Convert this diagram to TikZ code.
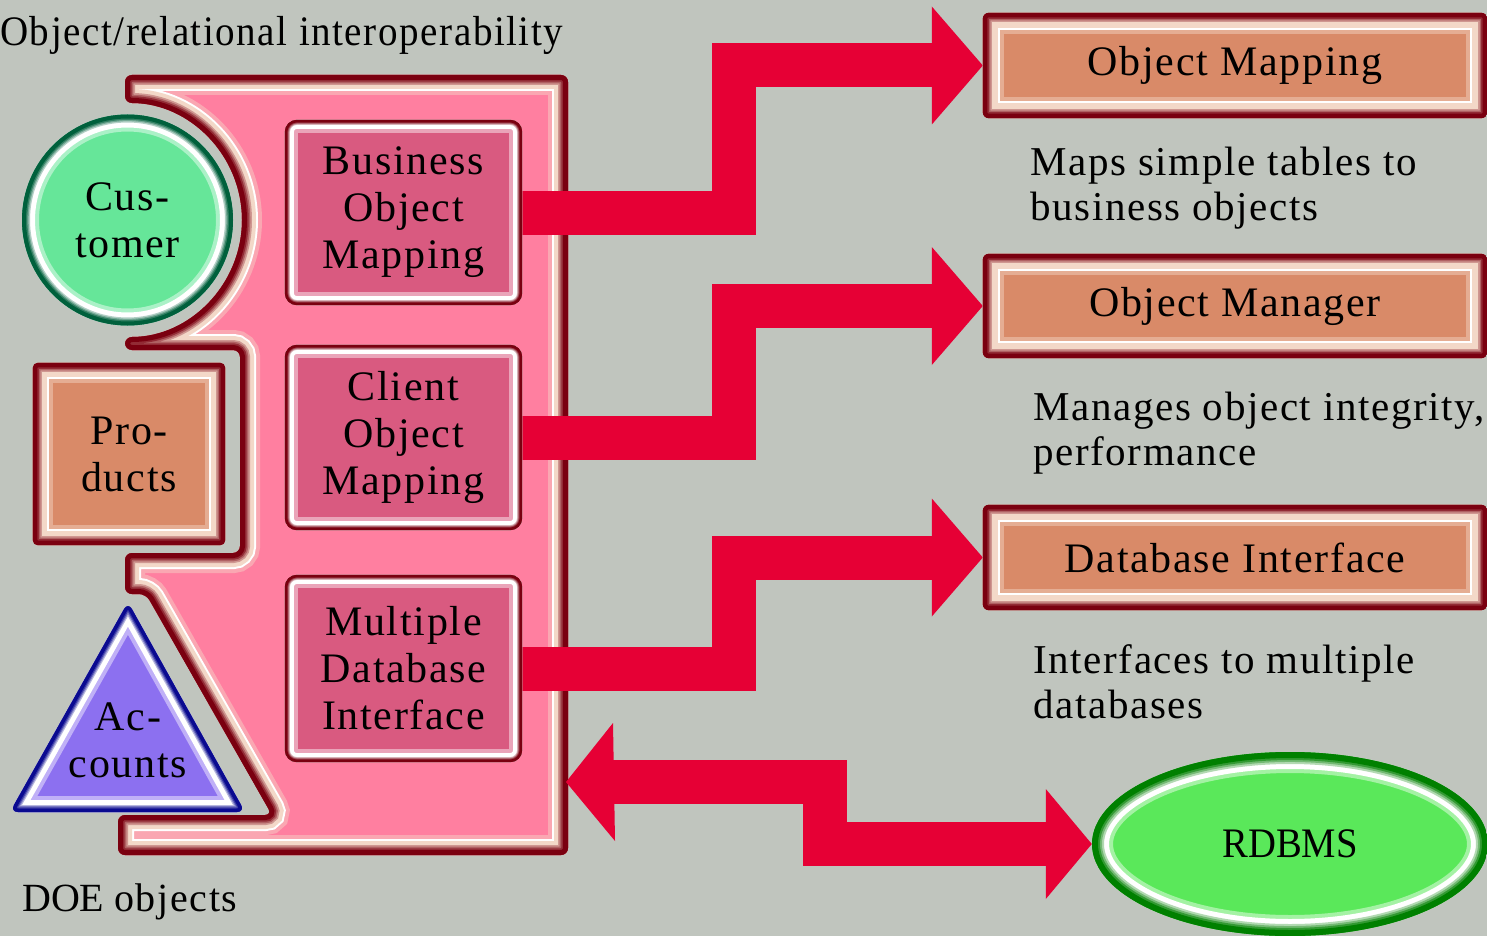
\documentclass[tikz,border=0pt]{standalone}
\usepackage{fontspec}
\setmainfont{Liberation Serif}
\newfontfamily\spc[LetterSpace=4]{Liberation Serif}
\usetikzlibrary{calc}
\pgfdeclarelayer{background}
\pgfsetlayers{background,main}
\definecolor{bgc}{RGB}{192,197,190}
\definecolor{pinkc}{RGB}{255,127,160}
\definecolor{boxpink}{RGB}{217,90,128}
\definecolor{dkred}{RGB}{122,0,16}
\definecolor{peach}{RGB}{243,216,200}
\definecolor{orangec}{RGB}{217,138,104}
\definecolor{arrowred}{RGB}{230,0,53}
\definecolor{custfill}{RGB}{102,230,153}
\definecolor{custdk}{RGB}{0,96,60}
\definecolor{accfill}{RGB}{140,112,240}
\definecolor{accdk}{RGB}{10,10,144}
\definecolor{rdfill}{RGB}{90,232,90}
\definecolor{rddk}{RGB}{0,128,0}
% #1 options, #2 path, #3 outer colour, #4 band colour, #5 fill, #6 dark width, #7 band width
\newcommand\bevel[7]{%
  \pgfmathsetmacro\bwA{2*(#6+#7+6)}\pgfmathsetmacro\bwB{2*(#6+#7+2)}%
  \pgfmathsetmacro\bwC{2*(#6+#7)}\pgfmathsetmacro\bwD{2*#6}%
  \pgfmathsetmacro\bwE{2*#6*0.83}\pgfmathsetmacro\bwF{2*#6*0.67}%
  \pgfmathsetmacro\bwG{2*#6*0.5}%
  \begin{scope}
    \clip[#1] #2;
    \fill[#5,#1] #2;
    \draw[#1,line width=\bwA pt,#4!45!#5] #2;
    \draw[#1,line width=\bwB pt,white] #2;
    \draw[#1,line width=\bwC pt,#4] #2;
    \draw[#1,line width=\bwD pt,#3!30!#4] #2;
    \draw[#1,line width=\bwE pt,#3!55!#4] #2;
    \draw[#1,line width=\bwF pt,#3!80!#4] #2;
    \draw[#1,line width=\bwG pt,#3] #2;
  \end{scope}}
\begin{document}
\begin{tikzpicture}[x=1pt,y=-1pt,
  lbl/.style={font=\spc\fontsize{42}{47}\selectfont, align=center, inner sep=0pt},
  desc/.style={font=\spc\fontsize{41}{45}\selectfont, align=left, anchor=west, inner sep=0pt},
  arrowbar/.style={draw=arrowred, line width=44pt, line join=miter},
  head/.style={fill=arrowred}]
\useasboundingbox (0,0) rectangle (1487,936);

% nodes
\node[lbl, minimum width=237pt, minimum height=185pt] (bom) at (403.5,212.5) {Business\\Object\\Mapping};
\node[lbl, minimum width=237pt, minimum height=185pt] (com) at (403.5,437.5) {Client\\Object\\Mapping};
\node[lbl, minimum width=237pt, minimum height=187pt] (mdi) at (403.5,668.5) {Multiple\\Database\\Interface};
\node[lbl, minimum size=211pt] (cust) at (127.5,220) {Cus-\\tomer};
\node[lbl, minimum width=192pt, minimum height=182pt] (prod) at (129,454) {Pro-\\ducts};
\node[lbl] (acc) at (128,740) {Ac-\\counts};
\node[lbl, minimum width=504pt, minimum height=105pt] (om) at (1235,65.5) {Object Mapping};
\node[lbl, minimum width=504pt, minimum height=104pt] (omgr) at (1235,306) {Object Manager};
\node[lbl, minimum width=504pt, minimum height=105pt] (di) at (1235,557.5) {Database Interface};
\node[font=\fontsize{42}{47}\selectfont, inner sep=0pt, minimum width=396pt, minimum height=184pt] (rd) at (1290,844) {\scalebox{0.92}[1]{RDBMS}};
\node[desc] (d1) at (1030,188) {Maps simple tables to\\business objects};
\node[desc] (d2) at (1033,433) {Manages object integrity,\\performance};
\node[desc] (d3) at (1033,682) {Interfaces to multiple\\databases};
\node[anchor=west, inner sep=0pt, font=\spc\fontsize{42}{47}\selectfont] (title) at (0,35) {\scalebox{0.93}[1]{Object/relational interoperability}};
\node[anchor=west, inner sep=0pt, font=\fontsize{40}{45}\selectfont] (doe) at (22,902) {DOE {\spc objects}};

\coordinate (v1) at (734,0);
\coordinate (v4) at (825,0);
\coordinate (cr) at (566,782);

\begin{pgfonlayer}{background}
\fill[bgc] (0,0) rectangle (1487,936);
% container
\bevel{rounded corners=7pt}{(125,75) -- (568,75) -- (568,855) -- (118,855) -- (118,815) -- (272,815) -- (146,594) -- (125,594) -- (125,553) -- (240,553) -- (240,350) -- (125,350) -- (125,337) arc[start angle=90,end angle=-90,radius=117] -- cycle}{dkred}{peach}{pinkc}{10}{4}

% arrows
\draw[arrowbar] (bom.east) -- (bom.east -| v1) -- (v1 |- om.west) -- ($(om.west)+(-50,0)$);
\fill[head] ($(om.west)+(-51,-59)$) -- (om.west) -- ($(om.west)+(-51,59)$) -- cycle;
\draw[arrowbar] (com.east) -- (com.east -| v1) -- (v1 |- omgr.west) -- ($(omgr.west)+(-50,0)$);
\fill[head] ($(omgr.west)+(-51,-59)$) -- (omgr.west) -- ($(omgr.west)+(-51,59)$) -- cycle;
\draw[arrowbar] (mdi.east) -- (mdi.east -| v1) -- (v1 |- di.west) -- ($(di.west)+(-50,0)$);
\fill[head] ($(di.west)+(-51,-59)$) -- (di.west) -- ($(di.west)+(-51,59)$) -- cycle;
\draw[arrowbar] ($(cr)+(45,0)$) -- (cr -| v4) -- (v4 |- rd.west) -- ($(rd.west)+(-44,0)$);
\fill[head] (cr) -- ($(cr)+(47,-59)$) -- ($(cr)+(49,59)$) -- cycle;
\fill[head] ($(rd.west)+(-46,-55)$) -- (rd.west) -- ($(rd.west)+(-46,55)$) -- cycle;

% shapes
\bevel{rounded corners=12pt}{(bom.north west) rectangle (bom.south east)}{dkred}{white}{boxpink}{5}{2}
\bevel{rounded corners=12pt}{(com.north west) rectangle (com.south east)}{dkred}{white}{boxpink}{5}{2}
\bevel{rounded corners=12pt}{(mdi.north west) rectangle (mdi.south east)}{dkred}{white}{boxpink}{5}{2}
\bevel{rounded corners=6pt}{(om.north west) rectangle (om.south east)}{dkred}{peach}{orangec}{9}{6}
\bevel{rounded corners=6pt}{(omgr.north west) rectangle (omgr.south east)}{dkred}{peach}{orangec}{9}{6}
\bevel{rounded corners=6pt}{(di.north west) rectangle (di.south east)}{dkred}{peach}{orangec}{9}{6}
\bevel{rounded corners=5pt}{(prod.north west) rectangle (prod.south east)}{dkred}{peach}{orangec}{9}{5}
\bevel{}{(cust.center) circle[radius=105.5]}{custdk}{white}{custfill}{8}{3}
\bevel{rounded corners=8pt}{($(acc)+(0,-138)$) -- ($(acc)+(117,72)$) -- ($(acc)+(-118,72)$) -- cycle}{accdk}{white}{accfill}{7}{3}
\bevel{}{(rd.center) ellipse[x radius=198,y radius=92]}{rddk}{white}{rdfill}{12}{3}
\end{pgfonlayer}
\end{tikzpicture}
\end{document}
